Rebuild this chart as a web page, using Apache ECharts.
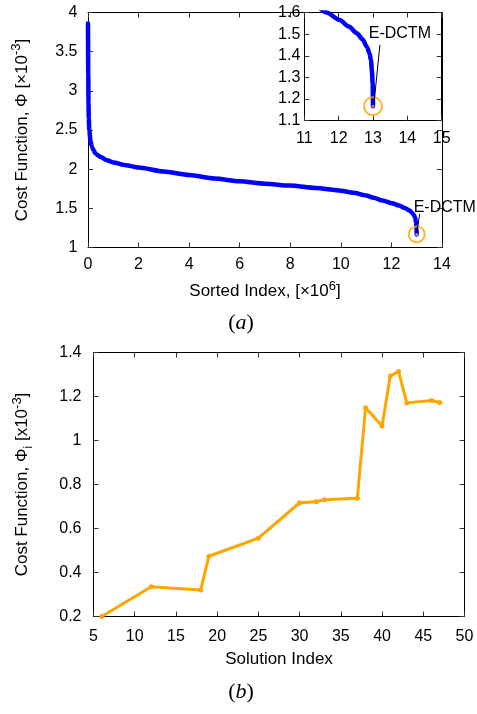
<!DOCTYPE html>
<html>
<head>
<meta charset="utf-8">
<script src="https://cdn.jsdelivr.net/npm/echarts@6/dist/echarts.min.js"></script>
<style>
  html, body { margin: 0; padding: 0; background: #fff; }
  #chart { width: 477px; height: 714px; }
</style>
</head>
<body>
<div id="chart"></div>
<script>
// (a) Cost function of every candidate, sorted (index in 1e6, cost in 1e-3)
const sortedIndex = [0, 0.01, 0.02, 0.03, 0.05, 0.1, 0.15, 0.2, 0.3, 0.4, 0.5, 0.75, 1, 1.5, 2, 3, 4, 5, 6, 7, 8, 9, 10, 10.5, 11, 11.3, 11.65, 12.03, 12.3, 12.53, 12.7, 12.82, 12.9, 12.94, 12.97, 12.99, 13.0];
const sortedCost  = [3.86, 3.2, 2.85, 2.65, 2.5, 2.36, 2.29, 2.25, 2.2, 2.175, 2.155, 2.115, 2.085, 2.05, 2.02, 1.97, 1.925, 1.88, 1.845, 1.815, 1.79, 1.76, 1.725, 1.70, 1.665, 1.635, 1.60, 1.565, 1.535, 1.504, 1.475, 1.442, 1.41, 1.38, 1.33, 1.27, 1.167];

// E-DCTM solution (minimum of the sorted curve)
const edctmIndex = [13.0];
const edctmCost  = [1.167];

// (b) Cost function per solution
const solutionIndex = [6, 12, 18, 19, 25, 30, 32, 33, 37, 38, 40, 41, 42, 43, 46, 47];
const solutionCost  = [0.200, 0.335, 0.321, 0.474, 0.556, 0.717, 0.722, 0.731, 0.737, 1.149, 1.066, 1.293, 1.314, 1.171, 1.182, 1.173];

// Tick values
const mainXTicks  = [0, 2, 4, 6, 8, 10, 12, 14];
const mainYTicks  = [1, 1.5, 2, 2.5, 3, 3.5, 4];
const insetXTicks = [11, 12, 13, 14, 15];
const insetYTicks = [1.1, 1.2, 1.3, 1.4, 1.5, 1.6];
const solXTicks   = [5, 10, 15, 20, 25, 30, 35, 40, 45, 50];
const solYTicks   = [0.2, 0.4, 0.6, 0.8, 1, 1.2, 1.4];

const FONT = "'Liberation Sans', Arial, Helvetica, sans-serif";
const SERIF = "'Liberation Serif', 'Times New Roman', serif";
const BLUE = '#0000ff';
const ORANGE = '#ffa500';

function zip(a, b) { return a.map((v, i) => [v, b[i]]); }

function valueAxis(ticks, gridIndex, position, showLabel, margin, extra) {
  return Object.assign({
    type: 'value',
    gridIndex: gridIndex,
    position: position,
    min: ticks[0],
    max: ticks[ticks.length - 1],
    interval: +(ticks[1] - ticks[0]).toFixed(6),
    axisLine: { show: true, onZero: false, lineStyle: { color: '#000', width: 1 } },
    axisTick: { show: true, inside: true, length: 5, lineStyle: { color: '#333', width: 1 } },
    axisLabel: { show: showLabel, margin: margin, color: '#000', fontSize: 16, fontFamily: FONT },
    splitLine: { show: false }
  }, extra || {});
}

const nameStyle = {
  color: '#000',
  fontFamily: FONT,
  fontSize: 17,
  rich: {
    n:   { fontSize: 17, lineHeight: 24, verticalAlign: 'middle', fontFamily: FONT, color: '#000' },
    sup: { fontSize: 13, lineHeight: 15, verticalAlign: 'top', fontFamily: FONT, color: '#000' },
    sub: { fontSize: 12, lineHeight: 14, verticalAlign: 'bottom', fontFamily: FONT, color: '#000' }
  }
};

const annotLabel = {
  show: true, formatter: 'E-DCTM', position: 'inside',
  color: '#000', fontSize: 16, fontFamily: FONT
};

const curveStyle = {
  showSymbol: false, symbol: 'none',
  smooth: 0.25, smoothMonotone: 'x',
  lineStyle: { color: BLUE, width: 4.5, cap: 'round', join: 'round' },
  itemStyle: { color: BLUE }
};

const option = {
  animation: false,
  backgroundColor: '#fff',
  grid: [
    { left: 88, top: 12.5, width: 354, height: 235, outerBoundsMode: 'none' },
    { left: 304.3, top: 12.5, width: 137.4, height: 108.2, show: true, backgroundColor: '#fff', borderWidth: 0, z: 1, outerBoundsMode: 'none' },
    { left: 93.5, top: 352.5, width: 371, height: 264, outerBoundsMode: 'none' }
  ],
  xAxis: [
    valueAxis(mainXTicks, 0, 'bottom', true, 9.5, {
      name: '{n|Sorted Index, [×10}{sup|6}{n|]}', nameLocation: 'middle', nameGap: 32, nameTextStyle: nameStyle
    }),
    valueAxis(mainXTicks, 0, 'top', false, 8),
    valueAxis(insetXTicks, 1, 'bottom', true, 9.5, { z: 2 }),
    valueAxis(insetXTicks, 1, 'top', false, 8, { z: 2 }),
    valueAxis(solXTicks, 2, 'bottom', true, 12, {
      name: '{n|Solution Index}', nameLocation: 'middle', nameGap: 31, nameTextStyle: nameStyle
    }),
    valueAxis(solXTicks, 2, 'top', false, 8)
  ],
  yAxis: [
    valueAxis(mainYTicks, 0, 'left', true, 10.5, {
      name: '{n|Cost Function, Φ [×10}{sup|-3}{n|]}', nameLocation: 'middle', nameGap: 54, nameTextStyle: nameStyle
    }),
    valueAxis(mainYTicks, 0, 'right', false, 8),
    valueAxis(insetYTicks, 1, 'left', true, 4, { z: 2 }),
    valueAxis(insetYTicks, 1, 'right', false, 8, { z: 2 }),
    valueAxis(solYTicks, 2, 'left', true, 12, {
      name: '{n|Cost Function, Φ}{sub|i}{n| [x10}{sup|-3}{n|]}', nameLocation: 'middle', nameGap: 59, nameTextStyle: nameStyle
    }),
    valueAxis(solYTicks, 2, 'right', false, 8)
  ],
  series: [
    // (a) main sorted curve
    Object.assign({
      type: 'line', xAxisIndex: 0, yAxisIndex: 0,
      data: zip(sortedIndex, sortedCost), z: 2
    }, curveStyle),
    // (a) E-DCTM marker with arrow and label
    {
      type: 'scatter', xAxisIndex: 0, yAxisIndex: 0,
      data: zip(edctmIndex, edctmCost),
      symbol: 'circle', symbolSize: 16,
      itemStyle: { color: 'rgba(0,0,0,0)', borderColor: ORANGE, borderWidth: 2 },
      z: 4,
      markLine: {
        silent: true, symbol: ['none', 'arrow'], symbolSize: [0, 7],
        label: { show: false },
        lineStyle: { color: '#000', width: 1, type: 'solid' },
        data: [[{ coord: [13.12, 1.43] }, { coord: [13.0, 1.19] }]]
      },
      markPoint: {
        silent: true, symbol: 'circle', symbolSize: 1,
        itemStyle: { color: 'rgba(0,0,0,0)' },
        data: [{ coord: [13.12, 1.43], label: Object.assign({ offset: [25, -6] }, annotLabel) }]
      }
    },
    {
      type: 'scatter', xAxisIndex: 0, yAxisIndex: 0,
      data: zip(edctmIndex, edctmCost),
      symbol: 'circle', symbolSize: 3, itemStyle: { color: ORANGE }, z: 5
    },
    // inset: zoom on the tail of the sorted curve
    Object.assign({
      type: 'line', xAxisIndex: 2, yAxisIndex: 2,
      data: zip(sortedIndex, sortedCost), clip: true, z: 3
    }, curveStyle),
    {
      type: 'scatter', xAxisIndex: 2, yAxisIndex: 2,
      data: zip(edctmIndex, edctmCost),
      symbol: 'circle', symbolSize: 18,
      itemStyle: { color: 'rgba(0,0,0,0)', borderColor: ORANGE, borderWidth: 2 },
      z: 4,
      markLine: {
        silent: true, symbol: ['none', 'arrow'], symbolSize: [0, 7],
        label: { show: false },
        lineStyle: { color: '#000', width: 1, type: 'solid' },
        data: [[{ coord: [13.2, 1.45] }, { coord: [13.04, 1.196] }]]
      },
      markPoint: {
        silent: true, symbol: 'circle', symbolSize: 1,
        itemStyle: { color: 'rgba(0,0,0,0)' },
        data: [{ coord: [13.2, 1.45], label: Object.assign({ offset: [20, -11] }, annotLabel) }]
      }
    },
    {
      type: 'scatter', xAxisIndex: 2, yAxisIndex: 2,
      data: zip(edctmIndex, edctmCost),
      symbol: 'circle', symbolSize: 3, itemStyle: { color: ORANGE }, z: 5
    },
    // (b) cost per solution
    {
      type: 'line', xAxisIndex: 4, yAxisIndex: 4,
      data: zip(solutionIndex, solutionCost),
      symbol: 'circle', symbolSize: 5, showSymbol: true,
      lineStyle: { color: ORANGE, width: 3 }, itemStyle: { color: ORANGE },
      z: 2
    }
  ],
  graphic: [
    {
      type: 'text', x: 241, y: 323,
      style: {
        text: '{p|(}{i|a}{p|)}', align: 'center', verticalAlign: 'middle',
        rich: {
          p: { fontFamily: SERIF, fontSize: 22, fill: '#000' },
          i: { fontFamily: SERIF, fontSize: 22, fontStyle: 'italic', fill: '#000' }
        }
      }
    },
    {
      type: 'text', x: 241, y: 692,
      style: {
        text: '{p|(}{i|b}{p|)}', align: 'center', verticalAlign: 'middle',
        rich: {
          p: { fontFamily: SERIF, fontSize: 22, fill: '#000' },
          i: { fontFamily: SERIF, fontSize: 22, fontStyle: 'italic', fill: '#000' }
        }
      }
    }
  ]
};

const chart = echarts.init(document.getElementById('chart'), null, { renderer: 'canvas' });
chart.setOption(option);
</script>
</body>
</html>
